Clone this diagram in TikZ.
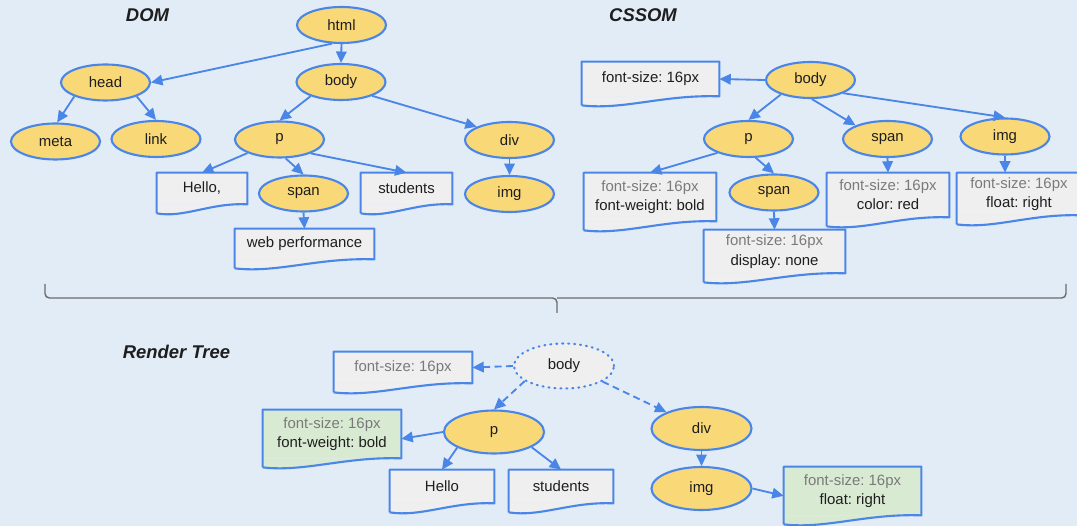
\documentclass[tikz,border=0pt]{standalone}
\usepackage{fontspec}
\setmainfont{Liberation Sans}
\frenchspacing
\usetikzlibrary{arrows.meta,calc,shapes.geometric}
\definecolor{bgblue}{HTML}{E2ECF6}
\definecolor{lineblue}{HTML}{4A86E8}
\definecolor{elfill}{HTML}{F9D877}
\definecolor{docgray}{HTML}{EFEFEF}
\definecolor{docgreen}{HTML}{D9EAD3}
\definecolor{txtgray}{HTML}{7A7A7A}
\definecolor{txtblack}{HTML}{1E1E1E}
\definecolor{bracegray}{HTML}{6B6B6B}
\tikzset{
  every node/.style={font=\fontsize{8.5}{11}\selectfont,text=txtblack},
  title/.style={font=\fontsize{10.5}{12}\selectfont\bfseries\itshape},
  el/.style={ellipse,draw=lineblue,line width=1.2pt,fill=elfill,inner sep=0pt,
    minimum width=89*0.02cm,minimum height=36*0.02cm},
  bigel/.style={el,minimum width=100*0.02cm,minimum height=43*0.02cm},
  ghostel/.style={bigel,fill=docgray,line width=1.2pt,dash pattern=on 0.6pt off 2.8pt,line cap=round,
    minimum height=45*0.02cm},
  doc/.style 2 args={rectangle,fill=docgray,inner sep=0pt,align=center,
    minimum width=#1*0.02cm,minimum height=#2*0.02cm},
  greendoc/.style 2 args={doc={#1}{#2},fill=docgreen},
  docline/.style={draw=lineblue,line width=1.2pt,line join=round},
  arr/.style={-{Triangle[length=6.5pt,width=6pt]},draw=lineblue,line width=1.05pt},
  darr/.style={arr,dash pattern=on 4pt off 2.5pt},
  brace/.style={draw=bracegray,line width=0.8pt,rounded corners=2.5pt}
}
\begin{document}
\begin{tikzpicture}[x=0.02cm,y=-0.02cm]
\fill[bgblue](0,0)rectangle(1077,526);
\useasboundingbox(0,0)rectangle(1077,526);
\begin{scope}
\node[title] (domtitle) at (147.5,15) {DOM};
\node[el] (html) at (341.5,25) {html};
\node[el] (head) at (105.5,82.5) {head};
\node[el] (body) at (341,82) {body};
\node[el] (meta) at (55.5,141.5) {meta};
\node[el] (link) at (156,139) {link};
\node[el] (p) at (279.5,139.5) {p};
\node[el] (div) at (509.5,140) {div};
\node[doc={90}{31}] (hello) at (202,188.5) {Hello,};
\node[el] (span) at (303.5,193.5) {span};
\node[doc={91}{31}] (students) at (406.5,188.5) {students};
\node[el] (img) at (509.5,194) {img};
\node[doc={139}{30}] (web) at (304.5,244) {web performance};
\end{scope}
\begin{scope}
\node[title] (cssomtitle) at (643,15) {CSSOM};
\node[el] (cbody) at (810.5,80) {body};
\node[doc={137}{34}] (cfont) at (650.5,79) {font-size: 16px};
\node[el] (cp) at (748.5,139) {p};
\node[el] (cspan) at (887.5,139) {span};
\node[el] (cimg) at (1005,136.5) {img};
\node[doc={132}{48}] (cpstyle) at (650,197) {\textcolor{txtgray}{font-size: 16px}\\font-weight: bold};
\node[el] (cspanb) at (774,192.5) {span};
\node[doc={141}{43}] (cdisp) at (774.5,251.5) {\textcolor{txtgray}{font-size: 16px}\\display: none};
\node[doc={122}{44}] (ccolor) at (888,195) {\textcolor{txtgray}{font-size: 16px}\\color: red};
\node[doc={124}{42}] (cfloat) at (1019,194) {\textcolor{txtgray}{font-size: 16px}\\float: right};
\end{scope}
\draw[brace](45,284)|-(557,298)--(557,313);
\draw[brace](1066,284)|-(557,298);
\begin{scope}
\node[title] (rtitle) at (176.5,352) {Render Tree};
\node[ghostel] (rbody) at (564,366) {body};
\node[doc={138}{31}] (rfont) at (403,367.5) {\textcolor{txtgray}{font-size: 16px}};
\node[bigel] (rp) at (494,432) {p};
\node[greendoc={138}{48}] (rpstyle) at (332,434) {\textcolor{txtgray}{font-size: 16px}\\font-weight: bold};
\node[doc={104}{33}] (rhello) at (442,486.5) {Hello};
\node[doc={104}{33}] (rstudents) at (561,486.5) {students};
\node[bigel] (rdiv) at (701.5,428.5) {div};
\node[bigel] (rimg) at (701.5,488.5) {img};
\node[greendoc={137}{48}] (rfloat) at (852.5,491) {\textcolor{txtgray}{font-size: 16px}\\float: right};
\end{scope}
\foreach \d/\c in {hello/docgray,students/docgray,web/docgray,cfont/docgray,cpstyle/docgray,cdisp/docgray,
  ccolor/docgray,cfloat/docgray,rfont/docgray,rhello/docgray,rstudents/docgray,rpstyle/docgreen,rfloat/docgreen}{
\fill[\c](\d.south west)--(\d.south east)
  ..controls($(\d.south east)!0.4!(\d.south west)+(0,-2)$)and($(\d.south east)!0.7!(\d.south west)+(0,14)$)..
  ($(\d.south west)+(0,9)$)--cycle;
\draw[docline]($(\d.south west)+(0,9)$)--(\d.north west)--(\d.north east)--(\d.south east)
  ..controls($(\d.south east)!0.4!(\d.south west)+(0,-2)$)and($(\d.south east)!0.7!(\d.south west)+(0,14)$)..
  ($(\d.south west)+(0,9)$);
}
\draw[arr](html.243)--(head.east);
\draw[arr](html.south)--(body.north);
\draw[arr](head.204)--(meta.85);
\draw[arr](head.336)--(link.north);
\draw[arr](body.205)--(p.north);
\draw[arr](body.336)--(div.158);
\draw[arr](p.203)--(hello.north);
\draw[arr](p.288)--(span.north);
\draw[arr](p.336)--(students.north);
\draw[arr](div.south)--(img.north);
\draw[arr](span.south)--(web.north);
\draw[arr](cbody.west)--(cfont.east);
\draw[arr](cbody.206)--(cp.north);
\draw[arr](cbody.274)--(cspan.157);
\draw[arr](cbody.338)--(cimg.north);
\draw[arr](cp.204)--(cpstyle.north);
\draw[arr](cp.291)--(cspanb.north);
\draw[arr](cspan.south)--(ccolor.north);
\draw[arr](cimg.south)--(cimg.south|-cfloat.north);
\draw[arr](cspanb.south)--(cdisp.north);
\draw[darr](rbody.west)--(rfont.east);
\draw[darr](rbody.201)--(rp.north);
\draw[darr](rbody.338)--(rdiv.155);
\draw[arr](rp.west)--(rpstyle.-4);
\draw[arr](rp.203)--(rhello.north);
\draw[arr](rp.338)--(rstudents.north);
\draw[arr](rdiv.south)--(rimg.north);
\draw[arr](rimg.east)--(rfloat.184);
\end{tikzpicture}
\end{document}
